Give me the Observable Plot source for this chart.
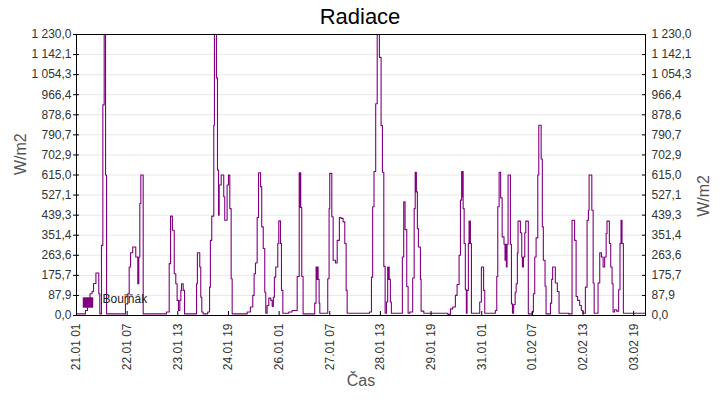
<!DOCTYPE html>
<html>
<head>
<meta charset="utf-8">
<script src="https://cdn.jsdelivr.net/npm/d3@7"></script>
<script src="https://cdn.jsdelivr.net/npm/@observablehq/plot@0.6"></script>
<style>
  html, body { margin: 0; padding: 0; background: #fff; }
  #wrap { position: relative; width: 720px; height: 400px; font-family: "Liberation Sans", Arial, sans-serif; }
  #title { height: 30px; line-height: 34px; text-align: center; font-size: 22px; color: #000; }
</style>
</head>
<body>
<div id="wrap">
  <div id="title">Radiace</div>
  <div id="chart"></div>
</div>
<script>
// Hours since 21.01 01:00 and radiation values (W/m2)
const hours = [
  0, 5.3, 6.5, 8.0, 9.2, 10.1, 11.5, 13.2, 13.8, 14.8, 15.6, 16.4, 17.2, 17.8,
  29.0, 30.4, 31.2, 32.0, 33.3, 35.1, 36.3, 36.9, 37.5, 38.1, 39.5,
  53.3, 54.9, 55.7, 56.8, 57.9, 58.8, 59.6, 60.4, 61.2, 61.8, 62.2, 63.2, 64.0,
  71.1, 71.6, 73.0, 73.6, 74.2, 75.0, 77.7, 78.8, 79.3, 80.1, 81.3, 81.7, 82.9, 83.5, 84.1, 84.5,
  85.7, 87.2, 87.8, 89.2, 90.0, 90.8, 91.6, 92.2,
  101.1, 103.0, 104.4, 105.2, 106.0, 107.0, 107.8, 109.0, 109.7, 110.6, 111.5, 112.1, 112.9,
  113.9, 115.1, 115.9, 116.6, 117.2, 118.0, 119.2, 119.8, 120.8, 121.4, 122.2,
  125.7, 127.7, 130.7, 131.9, 132.2, 132.5, 132.8, 133.4, 134.2,
  141.1, 141.9, 142.3, 142.5, 143.1, 143.7, 144.1,
  148.8, 149.6, 150.0, 151.2, 152.0, 153.4, 154.4, 155.7, 156.7, 157.9, 158.9, 159.7, 160.3,
  173.5, 174.7, 175.4, 176.2, 177.2, 178.1, 179.4, 180.4, 181.2, 182.0, 182.8,
  183.6, 184.3, 184.6, 184.9, 185.2, 185.9, 186.5,
  193.0, 193.8, 194.6, 195.6, 196.4, 197.4, 199.1, 200.0, 200.6, 200.9, 201.1, 201.3, 201.9, 202.5, 203.7, 204.1, 205.7,
  219.9, 221.5, 222.8, 224.4, 225.4, 226.6, 227.4, 228.1, 228.4, 228.6, 229.0, 229.6, 230.3, 230.9,
  231.3, 232.1, 232.5, 232.8, 233.0, 233.3, 233.9,
  238.8, 239.8, 241.1, 241.8,
  248.1, 248.9, 249.5, 250.3, 251.2, 252.1, 253.2, 253.8, 254.1, 254.6, 255.0, 255.6, 257.0, 257.6, 258.2,
  258.9, 259.8, 260.4, 261.1, 261.5, 262.9, 263.7, 264.1, 264.7, 265.5, 266.1, 267.6,
  269.8, 270.6, 271.4, 272.2, 273.2, 273.8, 275.2, 275.9, 276.5, 277.5, 278.1,
  280.7, 281.4, 282.0, 283.6, 284.8, 285.8,
  291.5, 293.5, 295.0, 295.9, 296.8, 298.0, 299.0, 300.0,
  301.4, 302.4, 303.2, 303.6, 305.2, 306.0, 306.6,
  308.9, 309.9, 310.9, 311.9, 312.8, 313.7, 314.2, 315.6, 316.4, 317.2, 317.8,
  318.7, 319.9, 321.1, 321.9, 322.5, 322.8, 323.0, 323.1, 323.9, 330.0, 337.0
];
const radiation = [
  7, 22, 47, 95, 105, 140, 186, 95, 7, 307, 922, 1230, 615, 7,
  51, 95, 212, 275, 300, 256, 139, 256, 490, 615, 7,
  15, 227, 435, 373, 183, 139, 66, 22, 66, 110, 139, 110, 7,
  139, 275, 212, 80, 15, 7, 15, 124, 329, 435, 833, 1230, 1040, 637, 439, 571,
  615, 520, 417, 571, 615, 468, 161, 7,
  15, 37, 88, 183, 230, 429, 625, 564, 388, 293, 102, 10, 44,
  76, 66, 40, 80, 168, 212, 315, 414, 315, 110, 10,
  15, 22, 171, 625, 473, 625, 473, 171, 7,
  54, 212, 158, 212, 158, 54, 10,
  161, 468, 622, 432, 242, 230, 329, 429, 425, 410, 315, 110, 10,
  15, 168, 476, 630, 927, 1230, 1130, 832, 627, 215, 10,
  59, 212, 158, 212, 158, 59, 10,
  256, 498, 376, 127, 10, 15, 164, 468, 627, 541, 627, 541, 381, 300, 158, 19, 10,
  5, 29, 37, 88, 136, 264, 505, 630, 520, 630, 468, 315, 113, 10,
  110, 315, 413, 315, 413, 315, 10,
  59, 212, 110, 10,
  22, 171, 476, 627, 515, 344, 312, 242, 312, 212, 312, 615, 312, 51, 10,
  48, 102, 139, 274, 413, 362, 256, 212, 256, 362, 413, 7,
  15, 95, 256, 340, 615, 833, 685, 388, 242, 129, 7,
  54, 158, 212, 142, 105, 10,
  7, 417, 329, 83, 66, 44, 22, 10,
  124, 417, 461, 615, 461, 142, 10,
  142, 275, 256, 212, 256, 359, 413, 315, 212, 139, 15,
  25, 19, 113, 315, 417, 315, 417, 315, 10, 10, 10
];
const seriesName = "Bouřňák";
const xTickLabels = ["21.01 01","22.01 07","23.01 13","24.01 19","26.01 01","27.01 07",
                     "28.01 13","29.01 19","31.01 01","01.02 07","02.02 13","03.02 19"];
const xTickStepHours = 30;
const yMax = 1230;
const yTickLabels = ["0,0","87,9","175,7","263,6","351,4","439,3","527,1","615,0",
                     "702,9","790,7","878,6","966,4","1 054,3","1 142,1","1 230,0"];

const t0 = Date.UTC(2013, 0, 21, 1, 0, 0);
const H = 3600e3;
const data = hours.map((h, i) => ({date: new Date(t0 + h * H), value: radiation[i]}));
const xTicks = xTickLabels.map((_, i) => new Date(t0 + i * xTickStepHours * H));
const xLabelMap = new Map(xTicks.map((d, i) => [+d, xTickLabels[i]]));
const yTicks = yTickLabels.map((_, i) => i * yMax / (yTickLabels.length - 1));
const yLabelMap = new Map(yTicks.map((v, i) => [v, yTickLabels[i]]));

const purple = "#800080";
const font = "Liberation Sans, Arial, sans-serif";

const chart = Plot.plot({
  width: 720,
  height: 370,
  marginTop: 4,
  marginBottom: 85,
  marginLeft: 76,
  marginRight: 75,
  style: {fontFamily: font, fontSize: "12px", background: "#fff", overflow: "visible"},
  x: {type: "utc", domain: [new Date(t0), new Date(t0 + 337 * H)]},
  y: {domain: [0, yMax]},
  marks: [
    Plot.ruleY(yTicks.slice(1, -1), {stroke: "#e8e8e8", strokeWidth: 1}),
    Plot.lineY(data, {x: "date", y: "value", curve: "step-after", stroke: purple, strokeWidth: 1.1, clip: true}),
    Plot.frame({stroke: "#000", strokeWidth: 1}),
    // left axis
    Plot.axisY({anchor: "left", ticks: yTicks, tickSize: 0, tickPadding: 5, tickFormat: d => yLabelMap.get(d), fill: "#333", label: null, fontSize: 12}),
    Plot.axisY({anchor: "left", ticks: yTicks, tickSize: 6, dx: 3, text: null, stroke: "#000", label: null}),
    // right axis
    Plot.axisY({anchor: "right", ticks: yTicks, tickSize: 0, tickPadding: 6, tickFormat: d => yLabelMap.get(d), fill: "#333", label: null, fontSize: 12}),
    Plot.axisY({anchor: "right", ticks: yTicks, tickSize: 4, dx: -4, text: null, stroke: "#000", label: null}),
    // bottom axis
    Plot.axisX({anchor: "bottom", ticks: xTicks, tickSize: 0, tickPadding: 8, tickRotate: -90, tickFormat: d => xLabelMap.get(+d), fill: "#333", label: null, fontSize: 12}),
    Plot.axisX({anchor: "bottom", ticks: xTicks, tickSize: 4, dy: -4, text: null, stroke: "#000", label: null}),
    // axis titles
    Plot.text(["W/m2"], {frameAnchor: "left", dx: -56, rotate: -90, fontSize: 16, fill: "#555"}),
    Plot.text(["W/m2"], {frameAnchor: "right", dx: 58, rotate: -90, fontSize: 16, fill: "#555"}),
    Plot.text(["Čas"], {frameAnchor: "bottom", dy: 70, fontSize: 16, fill: "#555"}),
    // legend
    Plot.dot([seriesName], {frameAnchor: "bottom-left", dx: 11.5, dy: -13, symbol: "square", r: 5.9, fill: purple, stroke: "none"}),
    Plot.text([seriesName], {frameAnchor: "bottom-left", dx: 26, dy: -12.5, textAnchor: "start", fontSize: 12, fill: "#222"})
  ]
});
document.getElementById("chart").appendChild(chart);
</script>
</body>
</html>
